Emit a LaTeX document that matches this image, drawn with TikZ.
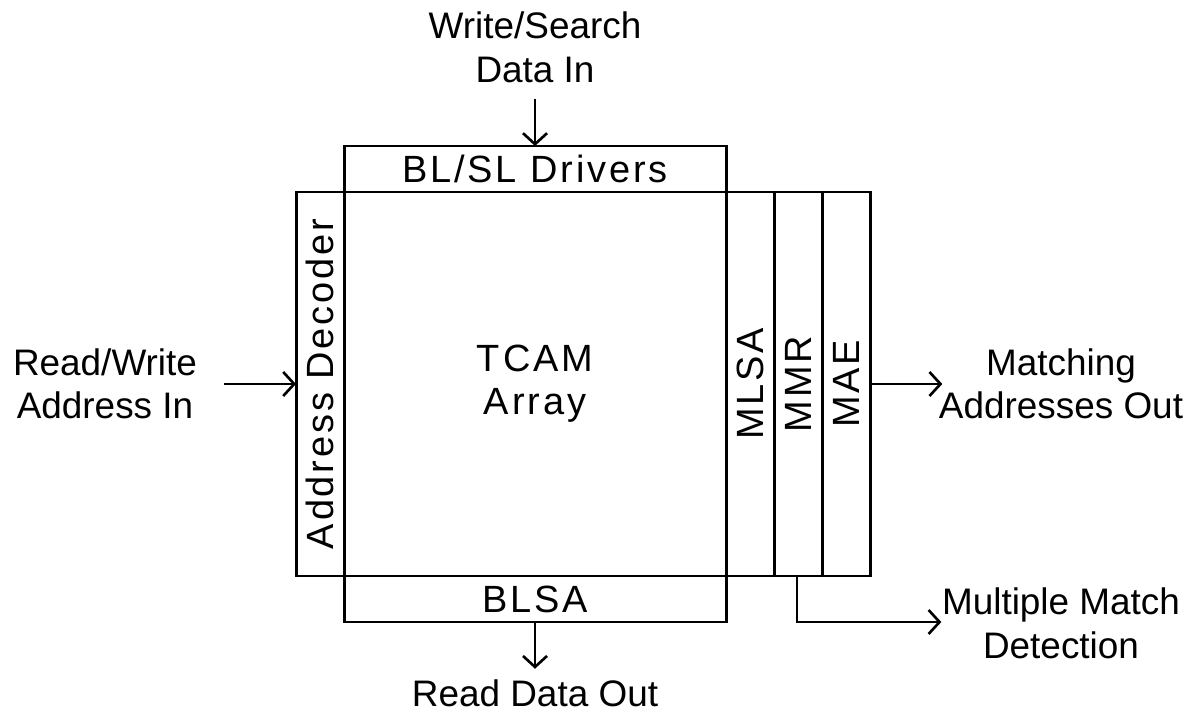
\documentclass[tikz,border=0pt]{standalone}
\usepackage{fontspec}
\setmainfont{Liberation Sans}
\newfontfamily\blockfont{Liberation Sans}[LetterSpace=7.5]
\usetikzlibrary{arrows.meta,positioning}

\begin{document}
\begin{tikzpicture}[every text node part/.style={align=center},
	block/.style={draw,line width=0.85pt,inner sep=0pt,outer sep=0pt,font=\blockfont\fontsize{10.8}{12.3}\selectfont},
	io/.style={inner sep=0pt,font=\fontsize{10.5}{12.4}\selectfont},
	sig/.style={line width=0.75pt,-{Straight Barb[length=1.1mm,width=2.4mm]}}]
		\useasboundingbox (0,0) rectangle (11.96,7.13);
		\node[block,minimum width=3.82cm,minimum height=3.84cm] (array) at (5.35,3.29) {TCAM\\Array};
		\node[block,minimum width=3.82cm,minimum height=0.46cm,anchor=south] (drivers) at (array.north) {BL/SL Drivers};
		\node[block,minimum width=3.82cm,minimum height=0.46cm,anchor=north] (blsa) at (array.south) {BLSA};
		\node[block,rotate=90,minimum width=3.84cm,minimum height=0.48cm,anchor=south] (decoder) at (array.west) {Address Decoder};
		\node[block,rotate=90,minimum width=3.84cm,minimum height=0.48cm,anchor=north] (mlsa) at (array.east) {MLSA};
		\node[block,rotate=90,minimum width=3.84cm,minimum height=0.48cm,anchor=north] (mmr) at (mlsa.south) {MMR};
		\node[block,rotate=90,minimum width=3.84cm,minimum height=0.48cm,anchor=north] (mae) at (mmr.south) {MAE};
		\node[io] (datain) at (5.35,6.655) {Write/Search\\Data In};
		\node[io] (addrin) at (1.05,3.29) {Read/Write\\Address In};
		\node[io] (matchout) at (10.61,3.29) {Matching\\Addresses Out};
		\node[io] (multi) at (10.61,0.895) {Multiple Match\\Detection};
		\node[io] (dataout) at (5.35,0.20) {Read Data Out};
		\draw[sig,shorten <=0.15cm] (datain) -- (drivers);
		\draw[sig,shorten <=0.26cm] (addrin) -- (decoder);
		\draw[sig,shorten >=-0.04cm] (mae) -- (matchout);
		\draw[sig,shorten >=0.1cm] (blsa) -- (dataout);
		\draw[sig] ([xshift=-0.01cm]mmr.west) |- (multi.west |- blsa.south);
\end{tikzpicture}
\end{document}
